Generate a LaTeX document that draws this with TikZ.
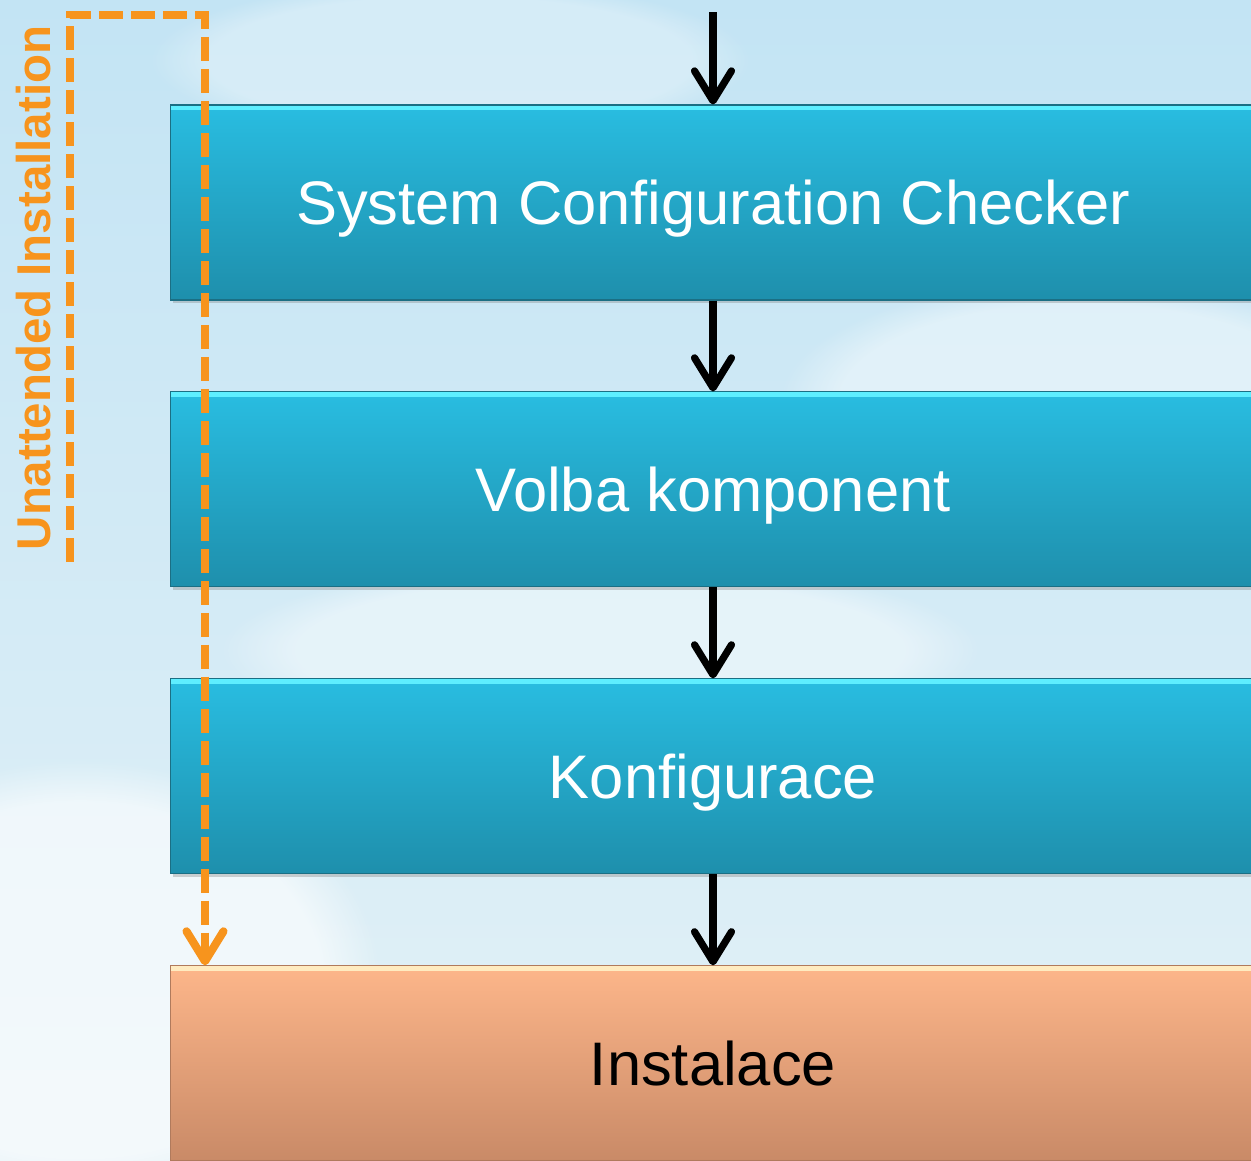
\documentclass[tikz,border=0pt]{standalone}
\usepackage{fontspec}
\setmainfont{Liberation Sans}
\usetikzlibrary{arrows.meta,positioning,shadows,fadings}

\definecolor{skytop}{HTML}{C3E4F4}
\definecolor{skybot}{HTML}{E3F1F7}
\definecolor{bluetop}{HTML}{29BDE1}
\definecolor{bluebot}{HTML}{1E8FAC}
\definecolor{bluehi}{HTML}{5EEEFF}
\definecolor{blueedge}{HTML}{1B6F84}
\definecolor{peachtop}{HTML}{FDB68A}
\definecolor{peachbot}{HTML}{C98A67}
\definecolor{peachhi}{HTML}{FFEBC0}
\definecolor{peachedge}{HTML}{B07A5C}
\definecolor{uaorange}{HTML}{F7941D}

\begin{document}
\begin{tikzpicture}[x=0.02cm,y=-0.02cm,node distance=5.74cm,on grid,
  stepbox/.style={minimum width=21.72cm,minimum height=3.9cm,inner sep=0pt,
    top color=bluetop,bottom color=bluebot,draw=blueedge,line width=0.6pt,
    text=white,font=\fontsize{35}{35}\selectfont,text height=25pt,text depth=0pt,
    drop shadow={shadow xshift=0.05cm,shadow yshift=-0.06cm,opacity=0.35},
    path picture={\fill[bluehi] (path picture bounding box.north west) rectangle
      ([yshift=-0.1cm]path picture bounding box.north east);}},
  instbox/.style={top color=peachtop,bottom color=peachbot,draw=peachedge,text=black,
    path picture={\fill[peachhi] (path picture bounding box.north west) rectangle
      ([yshift=-0.1cm]path picture bounding box.north east);}},
  flow/.style={-{Straight Barb[length=0.6cm,width=0.74cm,round]},line width=4.1pt,black},
  unattended/.style={-{Straight Barb[length=0.6cm,width=0.74cm,round]},line width=4.6pt,
    uaorange,dash pattern=on 0.48cm off 0.16cm},
  cloud/.style={white,path fading=circle with fuzzy edge 20 percent}]

  % sky
  \useasboundingbox (0,0) rectangle (1251,1160);
  \clip (0,0) rectangle (1251,1160);
  \fill[top color=skytop,bottom color=skybot] (0,0) rectangle (1251,1160);
  \fill[cloud,opacity=0.6] (80,980) ellipse (300 and 220);
  \fill[cloud,opacity=0.4] (600,650) ellipse (380 and 90);
  \fill[cloud,opacity=0.4] (1080,400) ellipse (300 and 120);
  \fill[cloud,opacity=0.3] (450,60) ellipse (300 and 80);

  % steps
  \node[stepbox]          (scc)  at (713,202.5)        {System Configuration Checker};
  \node[stepbox]          (volba) [below = of scc]    {Volba komponent};
  \node[stepbox]          (konf)  [below = of volba]  {Konfigurace};
  \node[stepbox,instbox]  (inst)  [below = of konf]   {Instalace};

  \coordinate (start) at (713,12);
  \draw[flow] (start) -- (scc);
  \draw[flow] (scc)   -- (volba);
  \draw[flow] (volba) -- (konf);
  \draw[flow] (konf)  -- (inst);

  % unattended path
  \coordinate (uafrom) at (70,562);
  \coordinate (uaturn) at (205,15);
  \draw[unattended] (uafrom) |- (uaturn) -- (uaturn |- inst.north);
  \node[rotate=90,inner sep=0pt,text=uaorange,font=\bfseries\fontsize{27}{27}\selectfont]
    (ualabel) at (34,288) {Unattended Installation};
\end{tikzpicture}
\end{document}
